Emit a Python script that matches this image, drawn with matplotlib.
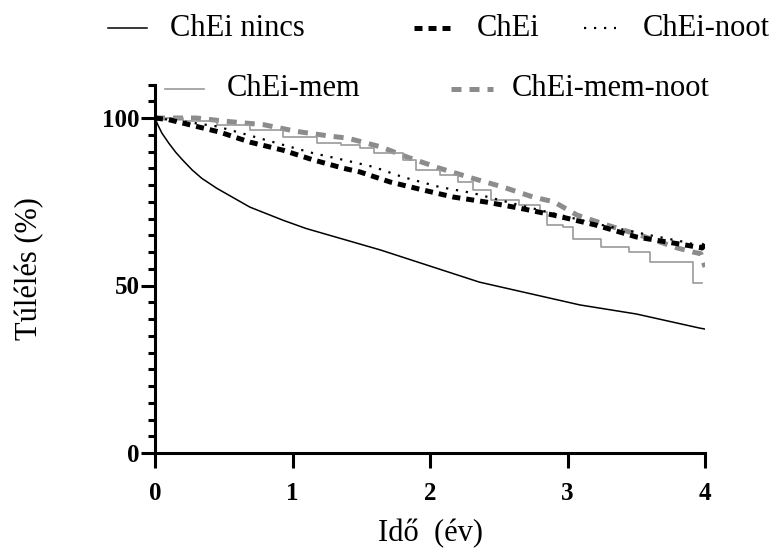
import matplotlib
matplotlib.use("Agg")
import matplotlib.pyplot as plt
from matplotlib.lines import Line2D
import numpy as np

plt.rcParams['font.family'] = ['Liberation Serif', 'DejaVu Serif']

# survival curves (time in years, survival %)
t_nincs = [0, 0.02, 0.05, 0.1, 0.15, 0.2, 0.27, 0.34, 0.45, 0.69, 0.93, 1.1, 1.64, 2.0, 2.36, 3.09, 3.5, 3.96, 4.0]
s_nincs = [100, 98, 95.5, 92.5, 89.8, 87.5, 84.5, 82, 79, 73.4, 69.5, 67, 60.6, 55.8, 51, 44.2, 41.5, 37.3, 37]

t_chei = [0, 0.1, 0.25, 0.47, 0.69, 0.93, 1.15, 1.37, 1.49, 1.71, 1.95, 2.17, 2.41, 2.65, 2.9, 3.21, 3.5, 3.87, 3.98, 4.0]
s_chei = [100, 99.5, 98, 95.8, 92.8, 90.4, 87.5, 85, 83.9, 80.9, 78.5, 76.4, 74.9, 73.1, 71, 68, 64.5, 62, 61.2, 62.5]

t_noot = [0, 0.2, 0.45, 0.67, 0.93, 1.15, 1.37, 1.59, 1.8, 2.07, 2.31, 2.46, 2.65, 2.9, 3.2, 3.6, 3.85, 4.0]
s_noot = [100, 99, 97.5, 95, 92, 89.5, 87.5, 85.4, 82.4, 79.4, 77.6, 76, 74, 71.5, 68.5, 65, 63, 61.5]

t_mem = [0, 0.2, 0.45, 0.69, 0.93, 1.18, 1.35, 1.49, 1.59, 1.8, 1.9, 2.07, 2.2, 2.31, 2.44, 2.65, 2.8, 2.85, 2.97, 3.04, 3.24, 3.45, 3.6, 3.91, 3.98]
s_mem = [100, 99, 98, 96.4, 94.3, 92.5, 92, 91, 89.5, 87.5, 84.5, 83, 81, 78.5, 75.5, 74, 72, 68, 67.5, 64, 61.5, 60, 57, 50.7, 50.7]

t_memnoot = [0, 0.3, 0.52, 0.79, 1.03, 1.27, 1.4, 1.64, 1.83, 2.07, 2.31, 2.53, 2.75, 2.9, 3.07, 3.29, 3.53, 3.8, 3.91, 3.97, 4.0]
s_memnoot = [100, 100, 99, 98, 96, 94.6, 94, 91.4, 88.4, 85, 82, 79.4, 76.4, 75, 71, 68, 65, 61.2, 60, 59.5, 55.5]

labels = ['ChEi nincs', 'ChEi', 'ChEi-noot', 'ChEi-mem', 'ChEi-mem-noot']

fig = plt.figure(figsize=(7.71, 5.52), dpi=100)
ax = fig.add_axes([155/771, 1-453/552, 550/771, 368.5/552])

gray = '#8c8c8c'
styles = [
    dict(color='black', lw=1.1, ls='-'),
    dict(color='black', lw=3.6, ls=(0, (1.6, 1.2))),
    dict(color='black', lw=1.6, ls=(0, (1, 3.5))),
    dict(color='#9a9a9a', lw=1.2, ls='-', drawstyle='steps-post'),
    dict(color=gray, lw=3.6, ls=(0, (2.0, 1.6))),
]

ax.plot(t_memnoot, s_memnoot, **styles[4])
ax.plot(t_mem, s_mem, **styles[3])
ax.plot(t_nincs, s_nincs, **styles[0])
ax.plot(t_chei, s_chei, **styles[1])
ax.plot(t_noot, s_noot, **styles[2])

ax.set_xlim(0, 4)
ax.set_ylim(0, 110)
ax.set_xticks([0, 1, 2, 3, 4])
ax.set_yticks([0, 50, 100])
ax.set_yticks(np.arange(0, 111, 5), minor=True)
for sp in ['top', 'right']:
    ax.spines[sp].set_visible(False)
for sp in ['left', 'bottom']:
    ax.spines[sp].set_linewidth(2.2)
ax.tick_params(axis='y', which='major', length=10, width=2.2, direction='out', pad=1, labelsize=18)
ax.tick_params(axis='y', which='minor', length=5, width=2.2, direction='out')
ax.tick_params(axis='x', which='major', length=11, width=2.2, direction='out', pad=10, labelsize=18)
for lab in ax.get_xticklabels() + ax.get_yticklabels():
    lab.set_fontweight('bold')

ax.set_xlabel('Idő  (év)', fontsize=22, labelpad=10)
ax.set_ylabel('Túlélés (%)', fontsize=22, labelpad=42)

# legend, two rows above the plot (handle start, handle end, text x, row y in px)
W, H = 771, 552
legend_items = [
    (0, 108, 147, 170, 28),
    (1, 414, 456, 477, 28),
    (2, 584, 616, 643, 28),
    (3, 165, 204, 227, 89),
    (4, 451, 493, 512, 89),
]
for idx, x0, x1, xt, yy in legend_items:
    st = dict(styles[idx])
    st.pop('drawstyle', None)
    fy = 1 - yy / H
    fig.add_artist(Line2D([x0 / W, x1 / W], [fy, fy], transform=fig.transFigure, **st))
    fig.text(xt / W, fy, labels[idx], fontsize=22, va='center', ha='left')

fig.savefig('out.png', dpi=100)
